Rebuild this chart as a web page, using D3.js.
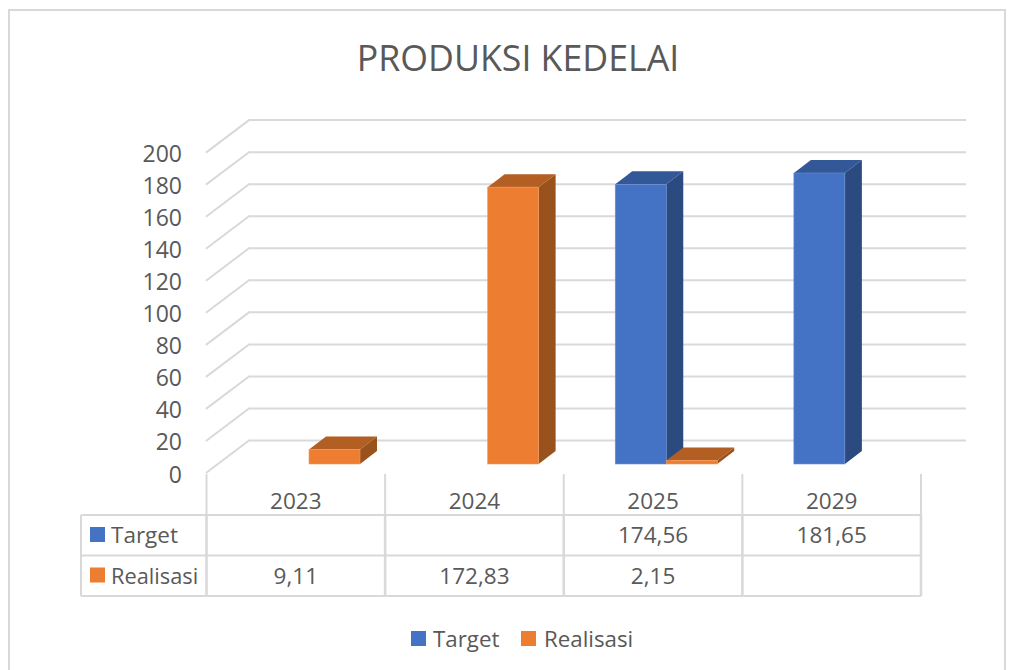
<!DOCTYPE html>
<html><head><meta charset="utf-8">
<script src="https://cdn.jsdelivr.net/npm/d3@7"></script>
<style>html,body{margin:0;padding:0;background:#fff}svg{display:block}text{font-family:"Open Sans",sans-serif;fill:#595959}</style>
</head><body><svg id="c" width="1020" height="670"></svg>
<script>
const categories = ["2023","2024","2025","2029"];
const seriesNames = ["Target","Realisasi"];
const target = [null,null,174.56,181.65];
const realisasi = [9.11,172.83,2.15,null];
const yTicks = [0,20,40,60,80,100,120,140,160,180,200];
const titleText = "PRODUKSI KEDELAI";

const palette = {
  Target:{front:"#4472c4",top:"#335897",side:"#2a4a80",edge:"#6a8fd6"},
  Realisasi:{front:"#ed7d31",top:"#b35e22",side:"#9a521c",edge:"#f49a5c"}
};
const grid="#d9d9d9";
const svg=d3.select("#c");
const depth={dx:43,dy:-32.5}, barDepth={dx:17,dy:-13};
const y0=473, y200=152.6, barBase=464;
const y=d3.scaleLinear().domain([0,200]).range([y0,y200]);
const yBar=d3.scaleLinear().domain([0,200]).range([barBase,barBase-(y0-y200)]);
const x=d3.scaleBand().domain(categories).range([206.5,921]);
const barW=51;
const line=(a,b,c,d,w=2,col=grid)=>svg.append("line").attr("x1",a).attr("y1",b).attr("x2",c).attr("y2",d).attr("stroke",col).attr("stroke-width",w);

// outer frame
svg.append("path").attr("d","M9,670V10H1005V670").attr("fill","none").attr("stroke",grid).attr("stroke-width",2);

// title
svg.append("text").attr("x",518).attr("y",71).attr("text-anchor","middle").attr("font-size",35.7).text(titleText);

// gridlines
yTicks.forEach(t=>{
  const p=d3.path();
  p.moveTo(206,y(t)); p.lineTo(206+depth.dx,y(t)+depth.dy); p.lineTo(966,y(t)+depth.dy);
  svg.append("path").attr("d",p).attr("fill","none").attr("stroke",grid).attr("stroke-width",2);
  svg.append("text").attr("x",182).attr("y",y(t)+9.5).attr("text-anchor","end").attr("font-size",23).text(t);
});

// bars
function bar(val,name,left){
  if(val==null) return;
  const c=palette[name], xl=left, xr=left+barW, yt=yBar(val), yb=barBase, d=barDepth;
  const poly=(pts,f)=>svg.append("polygon").attr("points",pts.map(q=>q.join(",")).join(" ")).attr("fill",f);
  poly([[xl,yt],[xl+d.dx,yt+d.dy],[xr+d.dx,yt+d.dy],[xr,yt]],c.top);
  poly([[xr,yt],[xr+d.dx,yt+d.dy],[xr+d.dx,yb+d.dy],[xr,yb]],c.side);
  svg.append("rect").attr("x",xl).attr("y",yt).attr("width",barW).attr("height",yb-yt).attr("fill",c.front).attr("stroke",c.edge).attr("stroke-width",0.6);
}
categories.forEach((cat,i)=>{
  const slotT=x(cat)+51.5, slotR=slotT+barW;
  bar(target[i],"Target",slotT);
  bar(realisasi[i],"Realisasi",slotR);
});

// data table
const tLeft=81,tRight=921,tTop=515,tMid=555.5,tBot=596;
const bounds=[...categories.map(c=>x(c)),921];
line(tLeft,tTop,tRight,tTop); line(tLeft,tMid,tRight,tMid); line(tLeft,tBot,tRight,tBot);
line(tLeft,tTop,tLeft,tBot);
bounds.forEach(b=>{ line(b,474,b,tTop,2); line(b,tTop,b,tBot,2.6); });
const fs=22.5;
categories.forEach(c=>{
  svg.append("text").attr("x",x(c)+x.bandwidth()/2).attr("y",509).attr("text-anchor","middle").attr("font-size",fs).text(c);
});
const fmt=v=>String(v).replace(".",",");
[[target,"Target",tTop],[realisasi,"Realisasi",tMid]].forEach(([vals,name,top])=>{
  svg.append("rect").attr("x",90).attr("y",top+12).attr("width",15).attr("height",15).attr("fill",palette[name].front);
  svg.append("text").attr("x",111).attr("y",top+28).attr("font-size",name==="Target"?fs:21.8).text(name);
  vals.forEach((v,i)=>{ if(v==null) return;
    svg.append("text").attr("x",x(categories[i])+x.bandwidth()/2).attr("y",top+28).attr("text-anchor","middle").attr("font-size",fs).text(fmt(v));
  });
});

// legend
[[411,433],[521,544]].forEach(([kx,tx],i)=>{
  svg.append("rect").attr("x",kx).attr("y",631).attr("width",15).attr("height",15).attr("fill",palette[seriesNames[i]].front);
  svg.append("text").attr("x",tx).attr("y",647).attr("font-size",22.3).text(seriesNames[i]);
});
</script></body></html>
